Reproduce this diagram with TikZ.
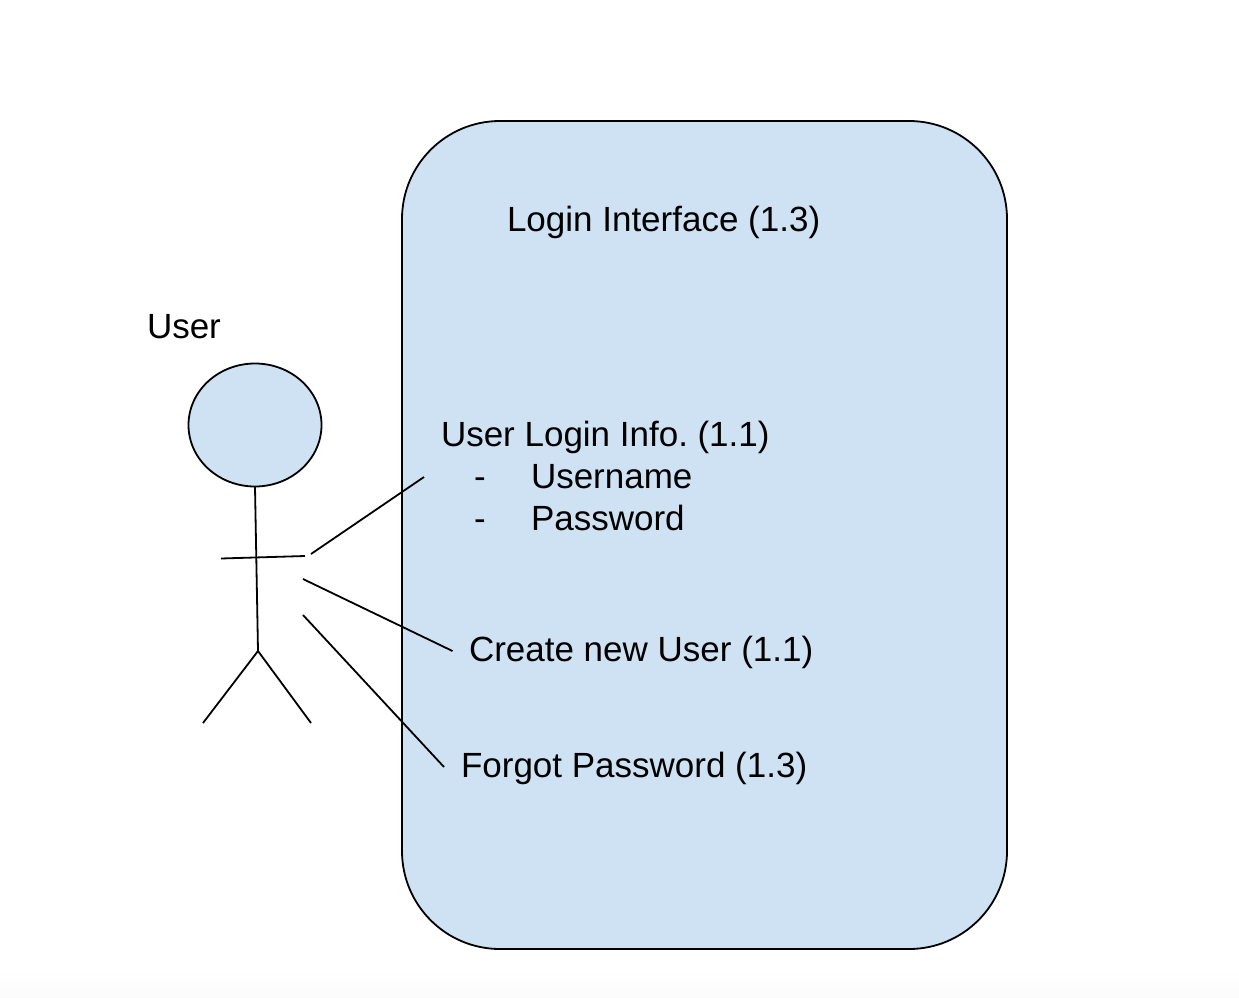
\documentclass[tikz,border=0pt]{standalone}
\usepackage{fontspec}
\setmainfont{Liberation Sans}
\definecolor{pale}{HTML}{CFE2F3}
\definecolor{fade}{HTML}{FBFBFB}
\tikzset{x=1pt,y=-1pt,
  shape line/.style={draw=black,line width=1.8pt},
  label text/.style={font=\fontsize{35}{40}\selectfont,anchor=base west,inner sep=0pt,outer sep=0pt}}
\begin{document}
\begin{tikzpicture}
\useasboundingbox (0,0) rectangle (1239,998);
\fill[white] (0,0) rectangle (1239,998);
\shade[top color=white,bottom color=fade] (0,970) rectangle (1239,998);
\filldraw[shape line,fill=pale,rounded corners=98pt] (402,121) rectangle (1007,949);
\filldraw[shape line,fill=pale] (255,425) ellipse [x radius=66.5,y radius=61.5];
\coordinate (neck) at (255,487);
\coordinate (hip) at (258,651);
\coordinate (armL) at (221,558.5);
\coordinate (armR) at (305,556);
\coordinate (footL) at (203,723);
\coordinate (footR) at (311,723);
\coordinate (a1) at (311,554);
\coordinate (a2) at (424,477);
\coordinate (b1) at (303,579);
\coordinate (b2) at (452.5,651);
\coordinate (c1) at (303,615);
\coordinate (c2) at (444,767);
\draw[shape line] (neck) -- (hip);
\draw[shape line] (armL) -- (armR);
\draw[shape line] (footL) -- (hip) -- (footR);
\draw[shape line] (a1) -- (a2);
\draw[shape line] (b1) -- (b2);
\draw[shape line] (c1) -- (c2);
\node[label text] (user) at (147,338) {User};
\node[label text] (title) at (507,231) {Login Interface (1.3)};
\node[label text] (info) at (441,446) {User Login Info.\kern-3.5pt{} (1.1)};
\node[label text] (d1) at (474,488) {-};
\node[label text] (uname) at (531,488) {Username};
\node[label text] (d2) at (474,530) {-};
\node[label text] (pw) at (531,530) {Password};
\node[label text] (create) at (469,661) {Create new User (1.1)};
\node[label text] (forgot) at (461,777.5) {Forgot Password (1.3)};
\end{tikzpicture}
\end{document}
